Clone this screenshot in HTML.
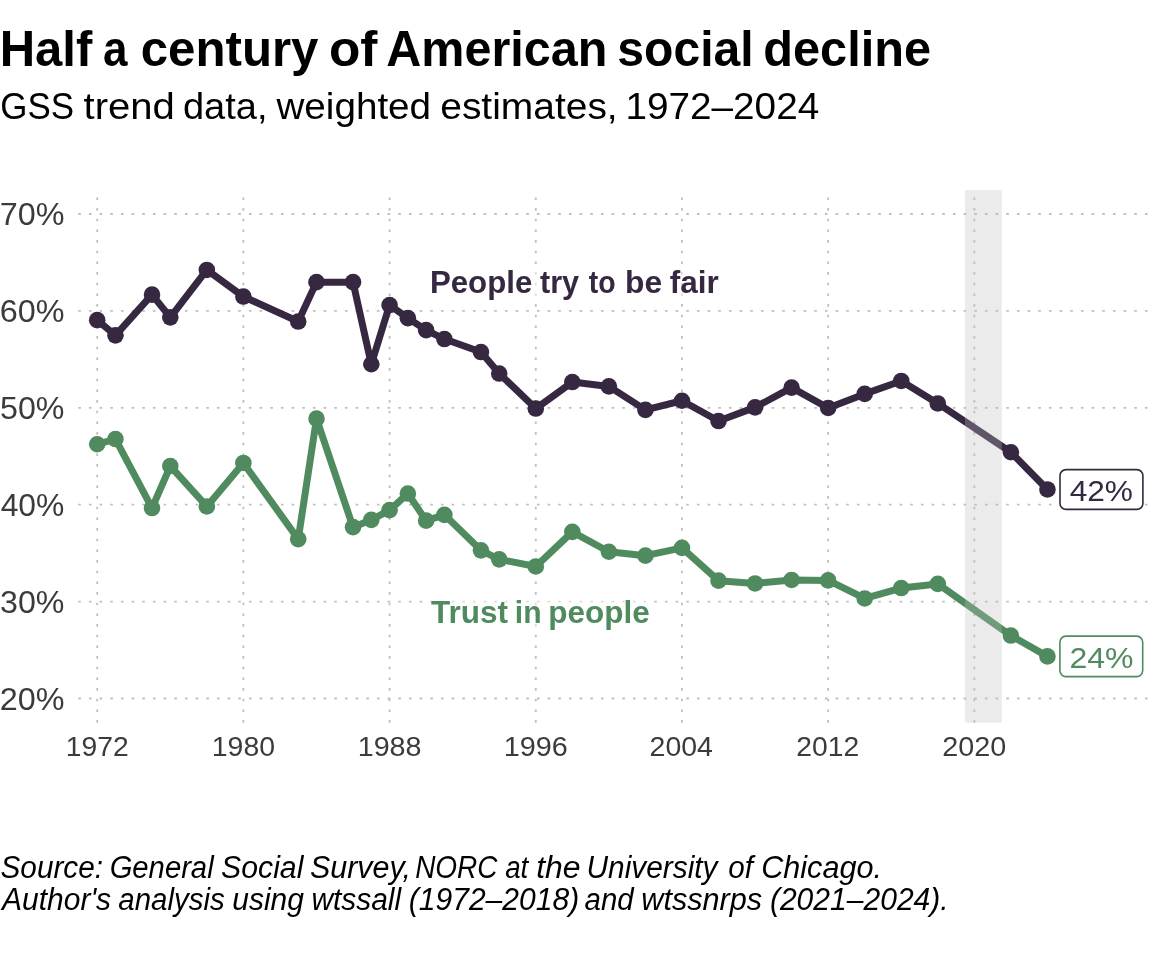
<!DOCTYPE html>
<html lang="en"><head><meta charset="utf-8"><title>Half a century of American social decline</title>
<style>html,body{margin:0;padding:0;background:#fff}svg{display:block}text{font-family:"Liberation Sans",sans-serif}</style></head><body>
<svg width="1152" height="979" viewBox="0 0 1152 979">
<rect width="1152" height="979" fill="#fff"/>
<g stroke="#bfbfbf" stroke-width="1.8" stroke-dasharray="2.6 8.0667" fill="none">
<line x1="78.25" y1="214.00" x2="1150.0" y2="214.00"/>
<line x1="78.25" y1="310.90" x2="1150.0" y2="310.90"/>
<line x1="78.25" y1="407.80" x2="1150.0" y2="407.80"/>
<line x1="78.25" y1="504.70" x2="1150.0" y2="504.70"/>
<line x1="78.25" y1="601.60" x2="1150.0" y2="601.60"/>
<line x1="78.25" y1="698.50" x2="1150.0" y2="698.50"/>
<line x1="97.20" y1="722.7" x2="97.20" y2="193.0"/>
<line x1="243.39" y1="722.7" x2="243.39" y2="193.0"/>
<line x1="389.58" y1="722.7" x2="389.58" y2="193.0"/>
<line x1="535.78" y1="722.7" x2="535.78" y2="193.0"/>
<line x1="681.97" y1="722.7" x2="681.97" y2="193.0"/>
<line x1="828.16" y1="722.7" x2="828.16" y2="193.0"/>
<line x1="974.35" y1="722.7" x2="974.35" y2="193.0"/>
</g>
<polyline points="97.20,320.15 115.47,335.35 152.02,294.65 170.30,317.35 206.84,269.95 243.39,296.55 298.21,321.55 316.49,282.15 353.04,282.15 371.31,364.25 389.58,305.05 407.86,318.15 426.13,330.15 444.41,339.05 480.95,352.05 499.23,373.55 535.78,408.55 572.32,382.05 608.87,386.40 645.42,409.85 681.97,400.75 718.52,421.05 755.06,407.35 791.61,387.65 828.16,407.95 864.71,393.90 901.26,380.95 937.80,403.45 1010.90,452.25 1047.45,489.45" fill="none" stroke="#362841" stroke-width="7.0" stroke-linejoin="round" stroke-linecap="butt"/>
<polyline points="97.20,444.25 115.47,439.05 152.02,508.05 170.30,466.05 206.84,506.45 243.39,462.95 298.21,539.15 316.49,418.65 353.04,527.15 371.31,519.85 389.58,510.15 407.86,493.55 426.13,520.65 444.41,514.85 480.95,550.35 499.23,559.35 535.78,566.45 572.32,531.85 608.87,551.75 645.42,555.65 681.97,547.90 718.52,580.65 755.06,583.45 791.61,579.95 828.16,580.40 864.71,598.45 901.26,588.05 937.80,583.90 1010.90,635.55 1047.45,656.40" fill="none" stroke="#508b5f" stroke-width="7.0" stroke-linejoin="round" stroke-linecap="butt"/>
<rect x="965.0" y="190.1" width="36.8" height="532.60" fill="rgb(190,190,190)" fill-opacity="0.31"/>
<g fill="#362841"><circle cx="97.20" cy="320.15" r="8.3"/><circle cx="115.47" cy="335.35" r="8.3"/><circle cx="152.02" cy="294.65" r="8.3"/><circle cx="170.30" cy="317.35" r="8.3"/><circle cx="206.84" cy="269.95" r="8.3"/><circle cx="243.39" cy="296.55" r="8.3"/><circle cx="298.21" cy="321.55" r="8.3"/><circle cx="316.49" cy="282.15" r="8.3"/><circle cx="353.04" cy="282.15" r="8.3"/><circle cx="371.31" cy="364.25" r="8.3"/><circle cx="389.58" cy="305.05" r="8.3"/><circle cx="407.86" cy="318.15" r="8.3"/><circle cx="426.13" cy="330.15" r="8.3"/><circle cx="444.41" cy="339.05" r="8.3"/><circle cx="480.95" cy="352.05" r="8.3"/><circle cx="499.23" cy="373.55" r="8.3"/><circle cx="535.78" cy="408.55" r="8.3"/><circle cx="572.32" cy="382.05" r="8.3"/><circle cx="608.87" cy="386.40" r="8.3"/><circle cx="645.42" cy="409.85" r="8.3"/><circle cx="681.97" cy="400.75" r="8.3"/><circle cx="718.52" cy="421.05" r="8.3"/><circle cx="755.06" cy="407.35" r="8.3"/><circle cx="791.61" cy="387.65" r="8.3"/><circle cx="828.16" cy="407.95" r="8.3"/><circle cx="864.71" cy="393.90" r="8.3"/><circle cx="901.26" cy="380.95" r="8.3"/><circle cx="937.80" cy="403.45" r="8.3"/><circle cx="1010.90" cy="452.25" r="8.3"/><circle cx="1047.45" cy="489.45" r="8.3"/></g>
<g fill="#508b5f"><circle cx="97.20" cy="444.25" r="8.3"/><circle cx="115.47" cy="439.05" r="8.3"/><circle cx="152.02" cy="508.05" r="8.3"/><circle cx="170.30" cy="466.05" r="8.3"/><circle cx="206.84" cy="506.45" r="8.3"/><circle cx="243.39" cy="462.95" r="8.3"/><circle cx="298.21" cy="539.15" r="8.3"/><circle cx="316.49" cy="418.65" r="8.3"/><circle cx="353.04" cy="527.15" r="8.3"/><circle cx="371.31" cy="519.85" r="8.3"/><circle cx="389.58" cy="510.15" r="8.3"/><circle cx="407.86" cy="493.55" r="8.3"/><circle cx="426.13" cy="520.65" r="8.3"/><circle cx="444.41" cy="514.85" r="8.3"/><circle cx="480.95" cy="550.35" r="8.3"/><circle cx="499.23" cy="559.35" r="8.3"/><circle cx="535.78" cy="566.45" r="8.3"/><circle cx="572.32" cy="531.85" r="8.3"/><circle cx="608.87" cy="551.75" r="8.3"/><circle cx="645.42" cy="555.65" r="8.3"/><circle cx="681.97" cy="547.90" r="8.3"/><circle cx="718.52" cy="580.65" r="8.3"/><circle cx="755.06" cy="583.45" r="8.3"/><circle cx="791.61" cy="579.95" r="8.3"/><circle cx="828.16" cy="580.40" r="8.3"/><circle cx="864.71" cy="598.45" r="8.3"/><circle cx="901.26" cy="588.05" r="8.3"/><circle cx="937.80" cy="583.90" r="8.3"/><circle cx="1010.90" cy="635.55" r="8.3"/><circle cx="1047.45" cy="656.40" r="8.3"/></g>
<rect x="428" y="268" width="294" height="32" fill="#fff" fill-opacity="0.45"/>
<rect x="427" y="598" width="226" height="32" fill="#fff" fill-opacity="0.45"/>
<rect x="1060.0" y="469.6" width="82.9" height="39.8" rx="6" fill="#fff" stroke="#362841" stroke-width="1.6"/>
<rect x="1059.9" y="636.1" width="82.8" height="40.5" rx="6" fill="#fff" stroke="#508b5f" stroke-width="1.6"/>
<text y="66.30" font-size="50.6" font-weight="bold" font-style="normal" fill="#000"><tspan x="-0.33" textLength="92.59" lengthAdjust="spacingAndGlyphs">Half</tspan> <tspan x="102.88" textLength="24.45" lengthAdjust="spacingAndGlyphs">a</tspan> <tspan x="140.73" textLength="177.78" lengthAdjust="spacingAndGlyphs">century</tspan> <tspan x="328.94" textLength="48.56" lengthAdjust="spacingAndGlyphs">of</tspan> <tspan x="386.24" textLength="221.15" lengthAdjust="spacingAndGlyphs">American</tspan> <tspan x="617.28" textLength="136.33" lengthAdjust="spacingAndGlyphs">social</tspan> <tspan x="763.25" textLength="167.80" lengthAdjust="spacingAndGlyphs">decline</tspan></text>
<text y="119.20" font-size="37.4" font-weight="normal" font-style="normal" fill="#000"><tspan x="0.25" textLength="73.71" lengthAdjust="spacingAndGlyphs">GSS</tspan> <tspan x="83.50" textLength="91.28" lengthAdjust="spacingAndGlyphs">trend</tspan> <tspan x="182.98" textLength="84.52" lengthAdjust="spacingAndGlyphs">data,</tspan> <tspan x="276.40" textLength="154.73" lengthAdjust="spacingAndGlyphs">weighted</tspan> <tspan x="440.24" textLength="177.45" lengthAdjust="spacingAndGlyphs">estimates,</tspan> <tspan x="625.50" textLength="193.68" lengthAdjust="spacingAndGlyphs">1972–2024</tspan></text>
<text y="225.45" font-size="32.0" font-weight="normal" font-style="normal" fill="#3b3b3b"><tspan x="-0.32" textLength="64.74" lengthAdjust="spacingAndGlyphs">70%</tspan></text>
<text y="322.35" font-size="32.0" font-weight="normal" font-style="normal" fill="#3b3b3b"><tspan x="-0.32" textLength="64.74" lengthAdjust="spacingAndGlyphs">60%</tspan></text>
<text y="419.25" font-size="32.0" font-weight="normal" font-style="normal" fill="#3b3b3b"><tspan x="0.01" textLength="64.40" lengthAdjust="spacingAndGlyphs">50%</tspan></text>
<text y="516.15" font-size="32.0" font-weight="normal" font-style="normal" fill="#3b3b3b"><tspan x="0.66" textLength="63.74" lengthAdjust="spacingAndGlyphs">40%</tspan></text>
<text y="613.05" font-size="32.0" font-weight="normal" font-style="normal" fill="#3b3b3b"><tspan x="0.01" textLength="64.40" lengthAdjust="spacingAndGlyphs">30%</tspan></text>
<text y="709.95" font-size="32.0" font-weight="normal" font-style="normal" fill="#3b3b3b"><tspan x="-0.32" textLength="64.74" lengthAdjust="spacingAndGlyphs">20%</tspan></text>
<text y="756.30" font-size="26.8" font-weight="normal" font-style="normal" fill="#3b3b3b"><tspan x="65.79" textLength="62.96" lengthAdjust="spacingAndGlyphs">1972</tspan></text>
<text y="756.30" font-size="26.8" font-weight="normal" font-style="normal" fill="#3b3b3b"><tspan x="211.78" textLength="63.29" lengthAdjust="spacingAndGlyphs">1980</tspan></text>
<text y="756.30" font-size="26.8" font-weight="normal" font-style="normal" fill="#3b3b3b"><tspan x="357.68" textLength="63.90" lengthAdjust="spacingAndGlyphs">1988</tspan></text>
<text y="756.30" font-size="26.8" font-weight="normal" font-style="normal" fill="#3b3b3b"><tspan x="503.80" textLength="64.09" lengthAdjust="spacingAndGlyphs">1996</tspan></text>
<text y="756.30" font-size="26.8" font-weight="normal" font-style="normal" fill="#3b3b3b"><tspan x="649.56" textLength="63.33" lengthAdjust="spacingAndGlyphs">2004</tspan></text>
<text y="756.30" font-size="26.8" font-weight="normal" font-style="normal" fill="#3b3b3b"><tspan x="796.29" textLength="62.86" lengthAdjust="spacingAndGlyphs">2012</tspan></text>
<text y="756.30" font-size="26.8" font-weight="normal" font-style="normal" fill="#3b3b3b"><tspan x="942.32" textLength="64.03" lengthAdjust="spacingAndGlyphs">2020</tspan></text>
<text y="292.90" font-size="31.3" font-weight="bold" font-style="normal" fill="#362841"><tspan x="429.91" textLength="102.40" lengthAdjust="spacingAndGlyphs">People</tspan> <tspan x="539.99" textLength="39.06" lengthAdjust="spacingAndGlyphs">try</tspan> <tspan x="588.72" textLength="26.83" lengthAdjust="spacingAndGlyphs">to</tspan> <tspan x="624.97" textLength="37.10" lengthAdjust="spacingAndGlyphs">be</tspan> <tspan x="669.67" textLength="49.04" lengthAdjust="spacingAndGlyphs">fair</tspan></text>
<text y="622.90" font-size="31.3" font-weight="bold" font-style="normal" fill="#508b5f"><tspan x="430.99" textLength="76.98" lengthAdjust="spacingAndGlyphs">Trust</tspan> <tspan x="514.79" textLength="26.78" lengthAdjust="spacingAndGlyphs">in</tspan> <tspan x="548.30" textLength="101.43" lengthAdjust="spacingAndGlyphs">people</tspan></text>
<text y="500.70" font-size="30.4" font-weight="normal" font-style="normal" fill="#362841"><tspan x="1069.67" textLength="63.33" lengthAdjust="spacingAndGlyphs">42%</tspan></text>
<text y="667.80" font-size="30.4" font-weight="normal" font-style="normal" fill="#508b5f"><tspan x="1069.40" textLength="64.01" lengthAdjust="spacingAndGlyphs">24%</tspan></text>
<text y="877.80" font-size="31.0" font-weight="normal" font-style="italic" fill="#000"><tspan x="0.51" textLength="102.57" lengthAdjust="spacingAndGlyphs">Source:</tspan> <tspan x="109.64" textLength="104.01" lengthAdjust="spacingAndGlyphs">General</tspan> <tspan x="221.09" textLength="82.31" lengthAdjust="spacingAndGlyphs">Social</tspan> <tspan x="309.99" textLength="100.94" lengthAdjust="spacingAndGlyphs">Survey,</tspan> <tspan x="415.16" textLength="82.38" lengthAdjust="spacingAndGlyphs">NORC</tspan> <tspan x="505.15" textLength="23.06" lengthAdjust="spacingAndGlyphs">at</tspan> <tspan x="536.20" textLength="44.38" lengthAdjust="spacingAndGlyphs">the</tspan> <tspan x="586.51" textLength="130.99" lengthAdjust="spacingAndGlyphs">University</tspan> <tspan x="728.21" textLength="24.74" lengthAdjust="spacingAndGlyphs">of</tspan> <tspan x="761.16" textLength="120.82" lengthAdjust="spacingAndGlyphs">Chicago.</tspan></text>
<text y="909.70" font-size="31.0" font-weight="normal" font-style="italic" fill="#000"><tspan x="2.10" textLength="109.02" lengthAdjust="spacingAndGlyphs">Author's</tspan> <tspan x="118.31" textLength="106.36" lengthAdjust="spacingAndGlyphs">analysis</tspan> <tspan x="232.30" textLength="71.62" lengthAdjust="spacingAndGlyphs">using</tspan> <tspan x="311.41" textLength="89.72" lengthAdjust="spacingAndGlyphs">wtssall</tspan> <tspan x="408.80" textLength="170.35" lengthAdjust="spacingAndGlyphs">(1972–2018)</tspan> <tspan x="584.61" textLength="49.06" lengthAdjust="spacingAndGlyphs">and</tspan> <tspan x="641.27" textLength="120.81" lengthAdjust="spacingAndGlyphs">wtssnrps</tspan> <tspan x="769.90" textLength="178.79" lengthAdjust="spacingAndGlyphs">(2021–2024).</tspan></text>
</svg></body></html>
